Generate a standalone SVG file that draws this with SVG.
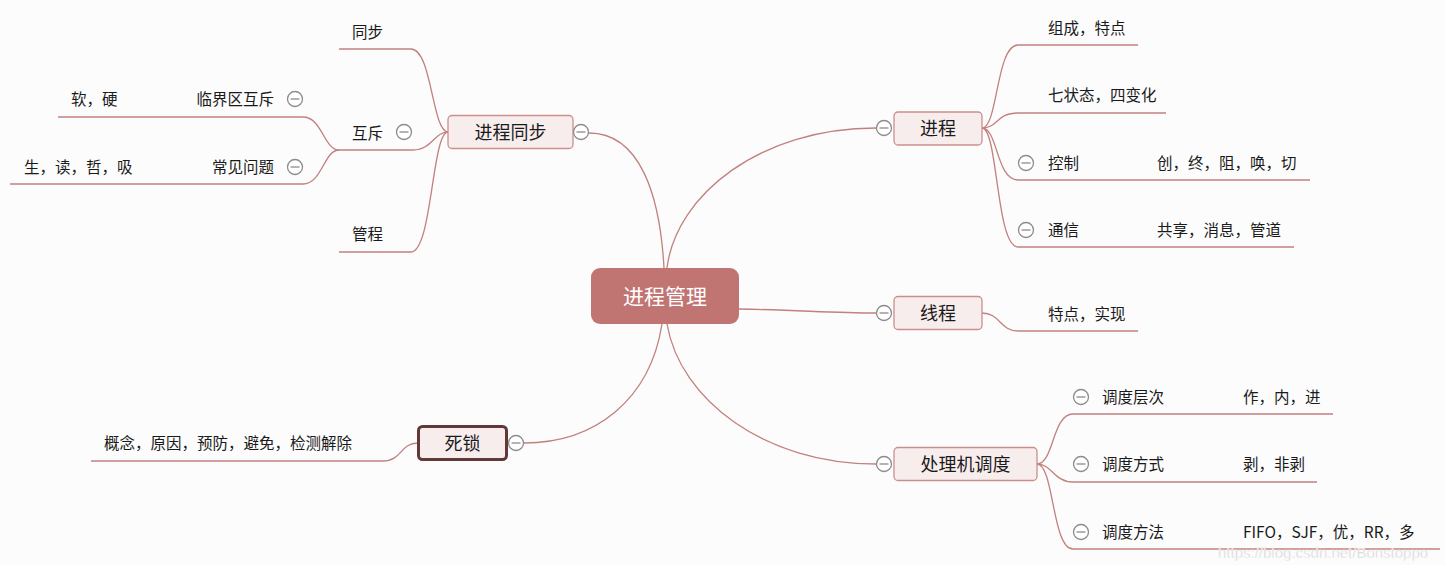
<svg xmlns="http://www.w3.org/2000/svg" width="1446" height="565" viewBox="0 0 1446 565">
<style>
.bg{fill:#fcfcfc}
.ln{fill:none;stroke:#c2807e;stroke-width:1.3}
.nd{fill:#f8eded;stroke:#cc8e8c;stroke-width:1.3}
.t{font-family:"Noto Sans CJK SC","Microsoft YaHei",sans-serif;fill:#1a1a1a}
.lf{font-size:15.5px}
.nt{font-size:18px;text-anchor:middle}
.cc{fill:#ffffff;stroke:#8c8c8c;stroke-width:1.3}
.cm{stroke:#8c8c8c;stroke-width:1.3}
</style>
<defs>
<g id="col"><circle class="cc" r="7.5"/><line class="cm" x1="-4.5" y1="0" x2="4.5" y2="0"/></g>
</defs>
<rect class="bg" x="0" y="0" width="1446" height="565"/>
<g id="connectors">
<path class="ln" d="M664 268 C660 195 640 133 589 133"/>
<path class="ln" d="M667 268 C676 195 760 128 876 128"/>
<path class="ln" d="M739 309 C800 310 830 313 876 313"/>
<path class="ln" d="M667 324 C680 400 765 464 876 464"/>
<path class="ln" d="M662 324 C650 400 595 443 524 443"/>
<path class="ln" d="M448 132 C432 132 432 49 411 49 L339 49"/>
<path class="ln" d="M448 132 C434 132 432 150 413 150 L339 150"/>
<path class="ln" d="M448 132 C432 132 432 252 411 252 L339 252"/>
<path class="ln" d="M339 150 C324 150 322 117 303 117 L58 117"/>
<path class="ln" d="M339 150 C324 150 322 184 303 184 L10 184"/>
<path class="ln" d="M418 443 C400 443 402 461 383 461 L91 461"/>
<path class="ln" d="M982 128 C998 128 996 45 1018 45 L1138 45"/>
<path class="ln" d="M982 128 C998 128 996 113 1018 113 L1166 113"/>
<path class="ln" d="M982 128 C998 128 996 180 1018 180 L1310 180"/>
<path class="ln" d="M982 128 C998 128 996 247 1018 247 L1294 247"/>
<path class="ln" d="M982 313 C1000 313 1000 331 1018 331 L1138 331"/>
<path class="ln" d="M1037 464 C1054 464 1052 414 1073 414 L1333 414"/>
<path class="ln" d="M1037 464 C1052 464 1054 482 1073 482 L1317 482"/>
<path class="ln" d="M1037 464 C1054 464 1052 549 1073 549 L1440 549"/>
</g>
<g id="root">
<rect x="591" y="268" width="148" height="56" rx="9" fill="#c07572"/>
<text class="t" x="665" y="304" font-size="21" text-anchor="middle" style="fill:#ffffff">进程管理</text>
</g>
<g id="n-sync">
<rect class="nd" x="448" y="115.5" width="125" height="33" rx="4"/>
<text class="t nt" x="510.5" y="139">进程同步</text>
<use href="#col" x="581" y="132"/>
</g>
<g id="n-proc">
<rect class="nd" x="894" y="112" width="88" height="33" rx="4"/>
<text class="t nt" x="938" y="135">进程</text>
<use href="#col" x="884" y="128"/>
</g>
<g id="n-thread">
<rect class="nd" x="894" y="296.5" width="88" height="33" rx="4"/>
<text class="t nt" x="938" y="320">线程</text>
<use href="#col" x="884" y="313"/>
</g>
<g id="n-sched">
<rect class="nd" x="894" y="447.5" width="143" height="33" rx="4"/>
<text class="t nt" x="965.5" y="471">处理机调度</text>
<use href="#col" x="884" y="464"/>
</g>
<g id="n-deadlock">
<rect x="418.5" y="426.5" width="88" height="33" rx="4" fill="#f8eded" stroke="#623838" stroke-width="3"/>
<text class="t nt" x="462.5" y="450">死锁</text>
<use href="#col" x="516" y="443"/>
</g>
<g id="n-sync-children">
<text class="t lf" x="352" y="38">同步</text>
<text class="t lf" x="352" y="139">互斥</text>
<use href="#col" x="404" y="132"/>
<text class="t lf" x="352" y="240">管程</text>
<text class="t lf" x="274" y="105" text-anchor="end">临界区互斥</text>
<use href="#col" x="295" y="99"/>
<text class="t lf" x="71" y="105">软，硬</text>
<text class="t lf" x="274" y="173" text-anchor="end">常见问题</text>
<use href="#col" x="295" y="167"/>
<text class="t lf" x="24" y="173">生，读，哲，吸</text>
</g>
<g id="n-proc-children">
<text class="t lf" x="1048" y="34">组成，特点</text>
<text class="t lf" x="1048" y="101">七状态，四变化</text>
<use href="#col" x="1026" y="163"/>
<text class="t lf" x="1048" y="169">控制</text>
<text class="t lf" x="1157" y="169">创，终，阻，唤，切</text>
<use href="#col" x="1026" y="230"/>
<text class="t lf" x="1048" y="236">通信</text>
<text class="t lf" x="1157" y="236">共享，消息，管道</text>
</g>
<g id="n-thread-children">
<text class="t lf" x="1048" y="320">特点，实现</text>
</g>
<g id="n-sched-children">
<use href="#col" x="1081" y="397"/>
<text class="t lf" x="1102" y="403">调度层次</text>
<text class="t lf" x="1243" y="403">作，内，进</text>
<use href="#col" x="1081" y="464"/>
<text class="t lf" x="1102" y="470">调度方式</text>
<text class="t lf" x="1243" y="470">剥，非剥</text>
<use href="#col" x="1081" y="532"/>
<text class="t lf" x="1102" y="538">调度方法</text>
<text class="t lf" x="1243" y="538">FIFO，SJF，优，RR，多</text>
</g>
<g id="n-deadlock-children">
<text class="t lf" x="104" y="449">概念，原因，预防，避免，检测解除</text>
</g>
<text x="1218" y="558" font-family="Liberation Sans, Arial, sans-serif" font-size="15" fill="#d2d2d2" stroke="#ffffff" stroke-width="0.4">https://blog.csdn.net/Bonstoppo</text>
</svg>
